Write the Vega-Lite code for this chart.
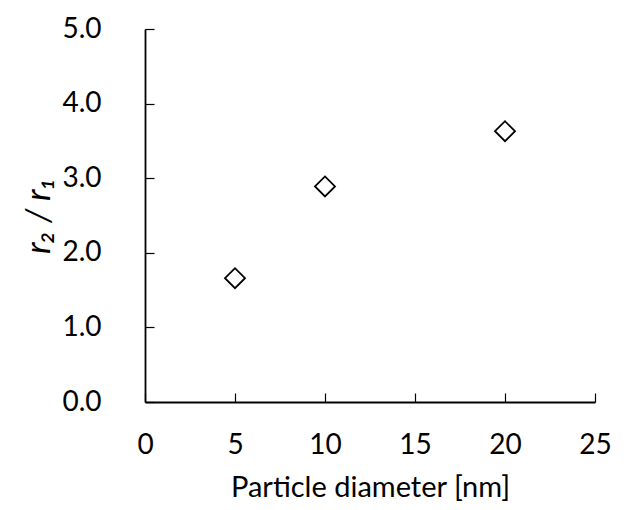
{
  "$schema": "https://vega.github.io/schema/vega-lite/v6.json",
  "autosize": {"type": "none"},
  "padding": {"left": 145, "top": 29, "right": 35, "bottom": 108},
  "width": 450,
  "height": 373,
  "background": "white",
  "config": {
    "view": {"stroke": null},
    "font": "Lato",
    "axis": {
      "grid": false,
      "domainColor": "black",
      "domainWidth": 1.8,
      "tickColor": "black",
      "tickWidth": 1.2,
      "tickSize": -9,
      "labelColor": "black",
      "titleColor": "black",
      "labelFont": "Lato",
      "titleFont": "Lato",
      "labelFontSize": 28,
      "titleFontSize": 29,
      "titleFontWeight": "normal"
    }
  },
  "data": {
    "values": [
      {"diameter": 5, "ratio": 1.66},
      {"diameter": 10, "ratio": 2.89},
      {"diameter": 20, "ratio": 3.63}
    ]
  },
  "mark": {"type": "point", "shape": "diamond", "size": 400, "filled": false, "stroke": "black", "strokeWidth": 1.8, "fill": "white", "opacity": 1},
  "encoding": {
    "x": {
      "field": "diameter",
      "type": "quantitative",
      "scale": {"domain": [0, 25], "nice": false},
      "axis": {"values": [0, 5, 10, 15, 20, 25], "title": "Particle diameter [nm]", "labelPadding": 38, "titlePadding": 14, "labelFlush": false}
    },
    "y": {
      "field": "ratio",
      "type": "quantitative",
      "scale": {"domain": [0, 5], "nice": false},
      "axis": {"values": [0, 1, 2, 3, 4, 5], "format": ".1f", "title": "r₂ / r₁", "titleFontStyle": "italic", "titleFontSize": 34, "labelPadding": 53, "titlePadding": 5, "labelFlush": false}
    }
  }
}
